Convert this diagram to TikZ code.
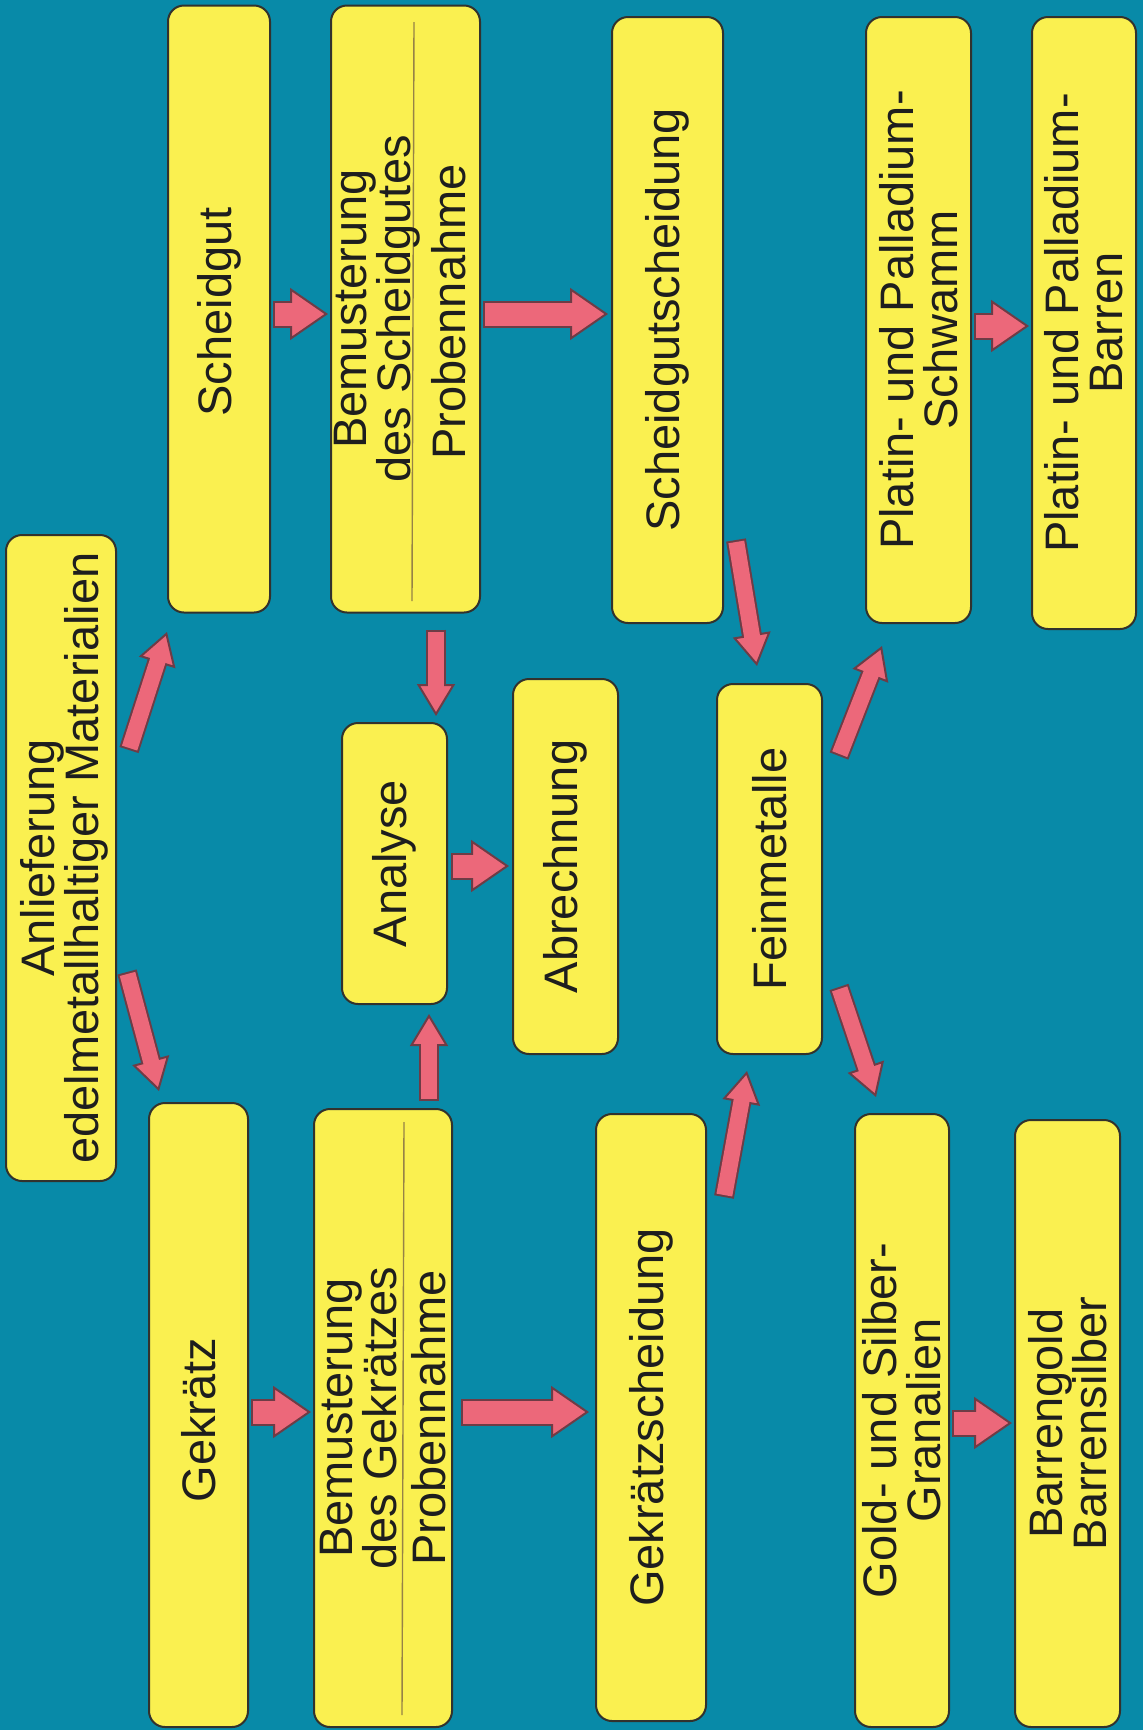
\documentclass[tikz,border=0pt]{standalone}
\usepackage{fontspec}
\setmainfont{Liberation Sans}
\usetikzlibrary{arrows.meta,calc}
\definecolor{bgteal}{RGB}{8,138,168}
\definecolor{boxfill}{RGB}{250,240,80}
\definecolor{boxline}{RGB}{50,50,45}
\definecolor{apink}{RGB}{236,104,122}
\definecolor{adark}{RGB}{110,60,70}
\definecolor{divline}{RGB}{150,130,70}
\definecolor{txtcol}{RGB}{30,30,30}
\tikzset{
  box/.style={rectangle, draw=boxline, line width=1pt, fill=boxfill, rounded corners=8pt, inner sep=0pt},
  txt/.style={rotate=90, align=center, inner sep=0pt, text=txtcol, font=\fontsize{23.5pt}{22pt}\selectfont},
  harrow/.style={draw=adark, line width=13.5pt,
    -{Triangle[length=19pt, width=26pt, line width=1pt, fill=apink]},
    postaction={draw=apink, line width=11.5pt, -, shorten >=17pt, shorten <=1pt}},
  darrow/.style={draw=adark, line width=10pt,
    -{Triangle[length=16pt, width=19pt, line width=1pt, fill=apink]},
    postaction={draw=apink, line width=8pt, -, shorten >=14pt, shorten <=1pt}},
  divider/.style={draw=divline, line width=0.7pt}
}
\begin{document}
\begin{tikzpicture}[x=0.5pt, y=-0.5pt]
\fill[bgteal] (0,0) rectangle (1143,1730);
\useasboundingbox (0,0) rectangle (1143,1730);

% boxes
\node[box, minimum width=55pt, minimum height=323pt] (anl) at (61,858) {};
\node[txt] (anlT) at (64,858) {Anlieferung\\edelmetallhaltiger Materialien};

\node[box, minimum width=51pt, minimum height=303.5pt] (sg) at (219,309) {};
\node[txt] (sgT) at (219,312) {Scheidgut};

\node[box, minimum width=49.5pt, minimum height=312pt] (gk) at (198.5,1415) {};
\node[txt] (gkT) at (198.5,1420) {Gekrätz};

\node[box, minimum width=74.5pt, minimum height=303.5pt] (bs) at (405.5,309) {};
\draw[divider] (414,22) -- (412,601);
\node[txt] (bsT1) at (377,309) {Bemusterung\\des Scheidgutes};
\node[txt] (bsT2) at (449,312) {Probennahme};

\node[box, minimum width=69pt, minimum height=309pt] (bg) at (383,1418) {};
\draw[divider] (404,1122) -- (402,1715);
\node[txt] (bgT1) at (359,1418) {Bemusterung\\des Gekrätzes};
\node[txt] (bgT2) at (429,1418) {Probennahme};

\node[box, minimum width=52.5pt, minimum height=140.5pt] (an) at (394.5,863.5) {};
\node[txt] (anT) at (394.5,863.5) {Analyse};

\node[box, minimum width=52.5pt, minimum height=187.5pt] (ab) at (565.5,866.5) {};
\node[txt] (abT) at (565.5,866.5) {Abrechnung};

\node[box, minimum width=55.5pt, minimum height=303pt] (sgs) at (667.5,320) {};
\node[txt] (sgsT) at (667.5,320) {Scheidgutscheidung};

\node[box, minimum width=55pt, minimum height=303.5pt] (gks) at (651,1417.5) {};
\node[txt] (gksT) at (651,1417.5) {Gekrätzscheidung};

\node[box, minimum width=52.5pt, minimum height=185pt] (fm) at (769.5,869) {};
\node[txt] (fmT) at (769.5,869) {Feinmetalle};

\node[box, minimum width=52.5pt, minimum height=303pt] (ps) at (918.5,320) {};
\node[txt] (psT) at (918.5,320) {Platin- und Palladium-\\Schwamm};

\node[box, minimum width=52pt, minimum height=306pt] (pb) at (1084,323) {};
\node[txt] (pbT) at (1084,323) {Platin- und Palladium-\\Barren};

\node[box, minimum width=47pt, minimum height=306.5pt] (gs) at (902,1420.5) {};
\node[txt] (gsT) at (902,1420.5) {Gold- und Silber-\\Granalien};

\node[box, minimum width=52.5pt, minimum height=303.5pt] (bb) at (1067.5,1423.5) {};
\node[txt] (bbT) at (1067.5,1423.5) {Barrengold\\Barrensilber};

% arrows
\draw[darrow] ($(anl.east|-0,750)+(12,0)$) -- ($(sg.west|-0,632)+(0,0)$);
\draw[darrow] ($(anl.east|-0,972)+(10,0)$) -- ($(gk.north west)+(11,-11)$);
\draw[harrow] ($(sg.east|-0,314)+(2,0)$) -- ($(bs.west|-0,314)+(-2,0)$);
\draw[harrow] ($(bs.east|-0,314)+(2,0)$) -- ($(sgs.west|-0,314)+(-3,0)$);
\draw[harrow] ($(gk.east|-0,1412)+(2,0)$) -- ($(bg.west|-0,1412)+(-2,0)$);
\draw[harrow] ($(bg.east|-0,1412)+(8,0)$) -- ($(gks.west|-0,1412)+(-6,0)$);
\draw[darrow] ($(bs.south-|an.east)+(-12,16)$) -- ($(an.north east)+(-12,-6)$);
\draw[darrow] ($(bg.north-|an.east)+(-19,-7)$) -- ($(an.south east)+(-19,9)$);
\draw[harrow] ($(an.east|-0,866)+(3,0)$) -- ($(ab.west|-0,866)+(-3,0)$);
\draw[darrow] ($(sgs.east|-0,540)+(12,0)$) -- ($(fm.north west)+(41,-17)$);
\draw[darrow] ($(gks.east|-0,1197)+(17,0)$) -- ($(fm.south west)+(31,16)$);
\draw[darrow] ($(fm.east|-0,756)+(16,0)$) -- ($(ps.south west)+(17,22)$);
\draw[darrow] ($(fm.east|-0,987)+(16,0)$) -- ($(gs.north west)+(22,-16)$);
\draw[harrow] ($(ps.east|-0,326)+(2,0)$) -- ($(pb.west|-0,326)+(-2,0)$);
\draw[harrow] ($(gs.east|-0,1423)+(2,0)$) -- ($(bb.west|-0,1423)+(-2,0)$);
\end{tikzpicture}
\end{document}
